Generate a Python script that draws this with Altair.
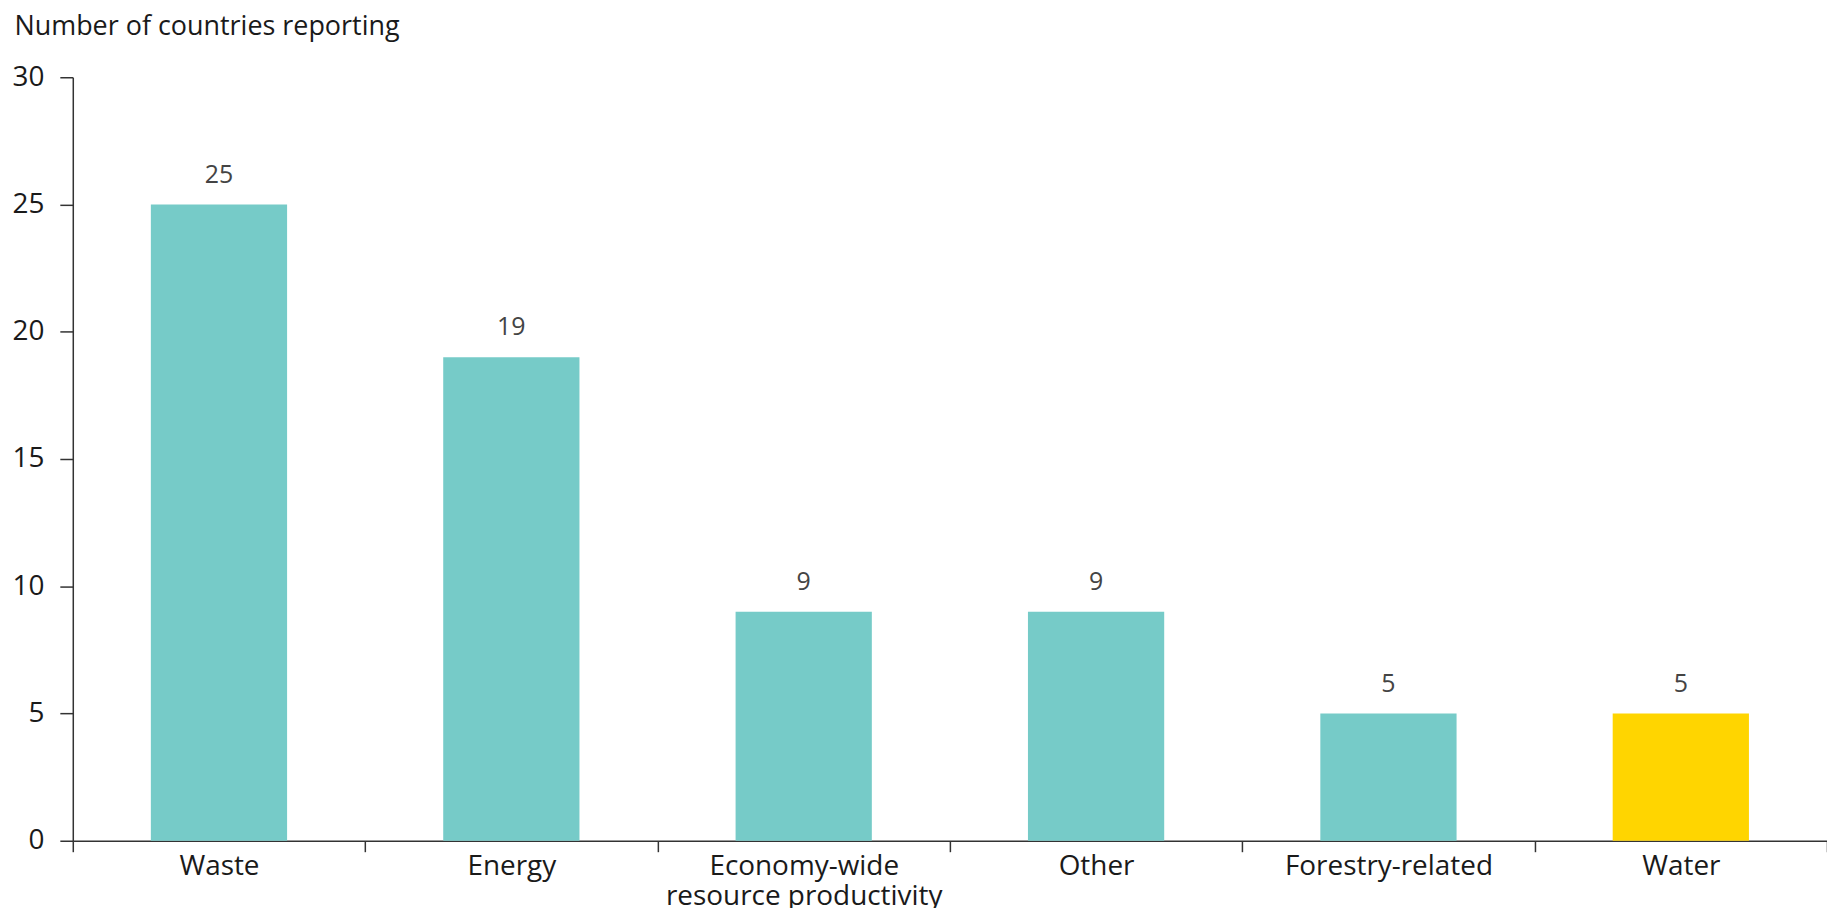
import altair as alt
import pandas as pd

categories = ["Waste", "Energy", "Economy-wide resource productivity", "Other", "Forestry-related", "Water"]
values = [25, 19, 9, 9, 5, 5]
highlight = ["no", "no", "no", "no", "no", "yes"]

df = pd.DataFrame({"category": categories, "value": values, "highlight": highlight})

FONT = "Open Sans"

x = alt.X(
    "category:N",
    sort=categories,
    scale=alt.Scale(paddingInner=0, paddingOuter=0),
    axis=alt.Axis(
        title=None,
        tickBand="extent",
        tickSize=11,
        tickColor="#333333",
        domainColor="#333333",
        domainWidth=1.5,
        tickWidth=1.5,
        labelAngle=0,
        labelFont=FONT,
        labelFontSize=28,
        labelColor="#1a1a1a",
        labelPadding=1,
        labelLineHeight=30,
        labelLimit=0,
        labelExpr="datum.value == 'Economy-wide resource productivity' ? ['Economy-wide', 'resource productivity'] : datum.label",
    ),
)

y = alt.Y(
    "value:Q",
    scale=alt.Scale(domain=[0, 30]),
    axis=alt.Axis(
        title="Number of countries reporting",
        titleAngle=0,
        titleAlign="left",
        titleBaseline="alphabetic",
        titleX=-59,
        titleY=-43,
        titleFont=FONT,
        titleFontSize=27,
        titleFontWeight="normal",
        titleColor="#1a1a1a",
        values=[0, 5, 10, 15, 20, 25, 30],
        tickSize=13,
        tickColor="#333333",
        tickWidth=1.5,
        domainColor="#333333",
        domainWidth=1.5,
        grid=False,
        labelFont=FONT,
        labelFontSize=28,
        labelColor="#1a1a1a",
        labelPadding=16,
    ),
)

bars = alt.Chart(df).mark_bar(width=alt.RelativeBandSize(0.466)).encode(
    x=x,
    y=y,
    color=alt.Color(
        "highlight:N",
        scale=alt.Scale(domain=["no", "yes"], range=["#76CBC8", "#FFD500"]),
        legend=None,
    ),
)

labels = alt.Chart(df).mark_text(
    font=FONT, fontSize=25, color="#444444", baseline="alphabetic", dy=-22
).encode(x=alt.X("category:N", sort=categories), y="value:Q", text="value:Q")

chart = (
    alt.layer(bars, labels)
    .properties(
        width=1760,
        height=766,
        autosize=alt.AutoSizeParams(type="none"),
        padding={"left": 65, "top": 68, "right": 0, "bottom": 66},
        background="white",
    )
    .configure_view(stroke=None)
)

chart.save("out.html", embed_options={"renderer": "svg", "actions": False})
